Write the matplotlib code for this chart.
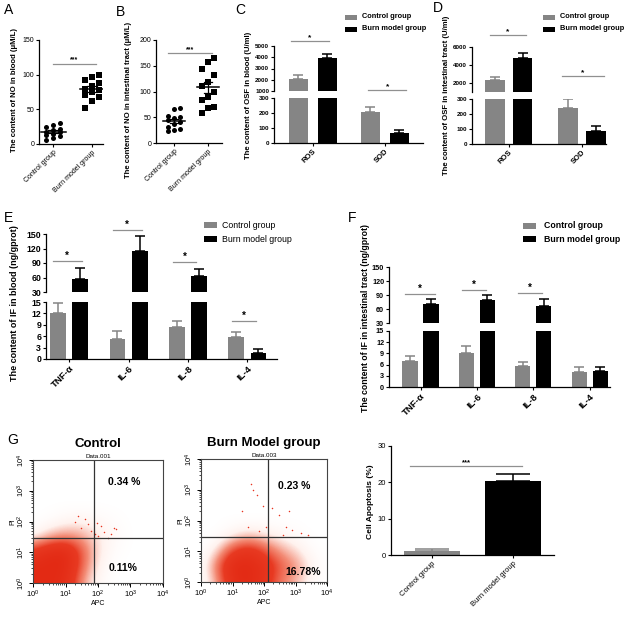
import matplotlib
matplotlib.use('Agg')
import matplotlib.pyplot as plt
import numpy as np
from matplotlib.patches import Rectangle
from matplotlib.colors import LinearSegmentedColormap

plt.rcParams['font.family'] = ['Liberation Sans', 'DejaVu Sans']
plt.rcParams['mathtext.fontset'] = 'custom'
plt.rcParams['mathtext.rm'] = 'Liberation Sans'
plt.rcParams['mathtext.it'] = 'Liberation Sans'

# ---- data ----
groups = ['Control group', 'Burn model group']

# A / B: NO content, individual animals
a_ctrl = [30, 28, 25, 22, 20, 18, 17, 15, 13, 11, 9, 6]
a_burn = [100, 97, 93, 88, 83, 80, 78, 75, 71, 68, 62, 52]
b_ctrl = [68, 66, 52, 50, 48, 44, 40, 36, 32, 27, 25, 24]
b_burn = [166, 157, 143, 132, 119, 110, 100, 90, 84, 70, 68, 59]

# C / D: oxygen free radicals
osf_cats = ['ROS', 'SOD']
c_ctrl = [2100, 207]
c_ctrl_err = [300, 33]
c_burn = [3900, 67]
c_burn_err = [400, 20]
d_ctrl = [2330, 238]
d_ctrl_err = [300, 60]
d_burn = [4740, 89]
d_burn_err = [630, 33]

# E / F: inflammatory factors
if_cats = ['TNF-α', 'IL-6', 'IL-8', 'IL-4']
e_ctrl = [12.1, 5.2, 8.3, 5.8]
e_ctrl_err = [2.7, 2.1, 1.8, 1.4]
e_burn = [57.6, 115.5, 63.8, 1.66]
e_burn_err = [22, 30, 14, 0.85]
f_ctrl = [7.0, 9.1, 5.6, 4.0]
f_ctrl_err = [1.2, 2.0, 1.2, 1.4]
f_burn = [71.4, 80, 65.7, 4.3]
f_burn_err = [10, 10.7, 15, 1.1]

# G: apoptosis
apop = [1.2, 20.5]
apop_err = [0.4, 1.8]

# flow cytometry: event density on a half-decade grid (rows = PI, cols = APC)
ctrl_density = [
    [1.0, 1.0, 0.9, 0.3, 0.05, 0, 0, 0, 0],
    [1.0, 1.0, 1.0, 0.45, 0.1, 0, 0, 0, 0],
    [0.7, 0.95, 1.0, 0.5, 0.15, 0.02, 0, 0, 0],
    [0.05, 0.25, 0.35, 0.3, 0.15, 0.05, 0, 0, 0],
    [0, 0.02, 0.08, 0.1, 0.06, 0.02, 0, 0, 0],
    [0, 0, 0, 0, 0, 0, 0, 0, 0],
    [0, 0, 0, 0, 0, 0, 0, 0, 0],
    [0, 0, 0, 0, 0, 0, 0, 0, 0],
    [0, 0, 0, 0, 0, 0, 0, 0, 0],
]
burn_density = [
    [0, 0.25, 0.85, 1.0, 0.75, 0.4, 0.25, 0.05, 0],
    [0, 0.4, 1.0, 1.0, 0.85, 0.5, 0.35, 0.1, 0],
    [0, 0.15, 0.6, 0.8, 0.55, 0.32, 0.18, 0.03, 0],
    [0, 0, 0.1, 0.2, 0.15, 0.08, 0.03, 0, 0],
    [0, 0, 0, 0, 0, 0, 0, 0, 0],
    [0, 0, 0, 0, 0, 0, 0, 0, 0],
    [0, 0, 0, 0, 0, 0, 0, 0, 0],
    [0, 0, 0, 0, 0, 0, 0, 0, 0],
    [0, 0, 0, 0, 0, 0, 0, 0, 0],
]
ctrl_sparse_apc = [30, 50, 80, 150, 250, 300, 20, 40, 100, 60, 200, 120, 25, 90, 350]
ctrl_sparse_pi = [60, 80, 40, 45, 40, 60, 100, 120, 35, 50, 30, 70, 150, 90, 55]
burn_sparse_apc = [40, 60, 20, 90, 180, 300, 500, 800, 1500, 2500, 400, 120, 30, 70, 600, 45]
burn_sparse_pi = [1500, 700, 200, 300, 250, 150, 60, 50, 40, 35, 35, 60, 60, 45, 200, 1000]
ctrl_gate = (75, 29)
burn_gate = (134, 29)
ctrl_pct = ['0.34 %', '0.11%']
burn_pct = ['0.23 %', '16.78%']

GRAY = '#858585'
W, H = 625, 620
fig = plt.figure(figsize=(W / 100, H / 100), dpi=100)


def add_ax(x0, y0, x1, y1):
    return fig.add_axes([x0 / W, 1 - y1 / H, (x1 - x0) / W, (y1 - y0) / H])


def style(ax, fs, weight='normal'):
    for s in ('top', 'right'):
        ax.spines[s].set_visible(False)
    for s in ('left', 'bottom'):
        ax.spines[s].set_linewidth(0.9)
    ax.tick_params(direction='out', length=2.5, width=0.8, labelsize=fs, pad=1)
    for t in ax.get_yticklabels() + ax.get_xticklabels():
        t.set_fontweight(weight)


def ylab(x, y, text, fs):
    fig.text(x / W, 1 - y / H, text, rotation=90, ha='center', va='center',
             fontsize=fs, fontweight='bold')


def letter(x, y, s):
    fig.text(x / W, 1 - y / H, s, fontsize=10, ha='left', va='center')


def sig(ax, x0, x1, y, stars, fs=6):
    ax.plot([x0, x1], [y, y], color='#909090', lw=0.9, clip_on=False)
    ax.text((x0 + x1) / 2, y, stars, ha='center', va='bottom', fontsize=fs,
            fontweight='bold', clip_on=False)


def legend_at(x, y, pw, ph, gap, dy, fs, weight):
    for k, (lab, col) in enumerate([('Control group', GRAY), ('Burn model group', 'k')]):
        yy = y + k * dy
        fig.add_artist(Rectangle((x / W, 1 - (yy + ph / 2) / H), pw / W, ph / H,
                                 transform=fig.transFigure, color=col, lw=0))
        fig.text((x + pw + gap) / W, 1 - yy / H, lab, fontsize=fs,
                 fontweight=weight, va='center', ha='left')


def dot_plot(ax, ctrl, burn, ylim, yticks, fs):
    for i, (vals, m) in enumerate([(ctrl, 'o'), (burn, 's')]):
        v = np.sort(np.asarray(vals, float))
        offs = ((np.arange(len(v)) % 3) - 1) * 0.17
        ax.scatter(i + offs, v, marker=m, s=13, c='k', linewidths=0, zorder=3)
        mean = v.mean()
        sem = v.std(ddof=1) / np.sqrt(len(v))
        ax.plot([i - 0.32, i + 0.32], [mean, mean], color='k', lw=1.1, zorder=4)
        ax.plot([i, i], [mean - sem, mean + sem], color='k', lw=0.9, zorder=4)
        for yy in (mean - sem, mean + sem):
            ax.plot([i - 0.12, i + 0.12], [yy, yy], color='k', lw=0.9, zorder=4)
    ax.set_ylim(ylim)
    ax.set_yticks(yticks)
    ax.set_xticks([0, 1])
    ax.set_xticklabels(groups, rotation=45, ha='right', rotation_mode='anchor')
    style(ax, fs)


def broken_bars(top_rect, bot_rect, top_lim, bot_lim, top_ticks, bot_ticks,
                cats, ctrl, ctrl_err, burn, burn_err, xlim, off, width, cap, fs, xfs):
    axt = add_ax(*top_rect)
    axb = add_ax(*bot_rect)
    x = np.arange(len(cats))
    n = len(cats)
    for ax in (axt, axb):
        ax.bar(x - off, ctrl, width, color=GRAY, lw=0)
        ax.bar(x + off, burn, width, color='k', lw=0)
        ax.errorbar(x - off, ctrl, yerr=[np.zeros(n), ctrl_err], fmt='none',
                    ecolor=GRAY, elinewidth=1.1, capsize=cap, capthick=1.1)
        ax.errorbar(x + off, burn, yerr=[np.zeros(n), burn_err], fmt='none',
                    ecolor='k', elinewidth=1.1, capsize=cap, capthick=1.1)
        ax.set_xlim(xlim)
    axt.set_ylim(top_lim)
    axt.set_yticks(top_ticks)
    axb.set_ylim(bot_lim)
    axb.set_yticks(bot_ticks)
    axt.set_xticks([])
    axb.set_xticks(x)
    axb.set_xticklabels(cats, rotation=45, ha='right', rotation_mode='anchor')
    style(axt, fs, 'bold')
    style(axb, fs, 'bold')
    axt.spines['bottom'].set_visible(False)
    for t in axb.get_xticklabels():
        t.set_fontsize(xfs)
    return axt, axb


# ---------- A ----------
axA = add_ax(39, 40, 103, 144)
axA.set_xlim(-0.36, 1.28)
dot_plot(axA, a_ctrl, a_burn, (0, 150), [0, 50, 100, 150], 5)
sig(axA, 0, 1.1, 116, '***', 5)
ylab(15, 90, 'The content of NO in blood (μM/L)', 5.6)
letter(4, 10, 'A')

# ---------- B ----------
axB = add_ax(156, 40, 222, 143)
axB.set_xlim(-0.53, 1.41)
dot_plot(axB, b_ctrl, b_burn, (0, 200), [0, 50, 100, 150, 200], 5)
sig(axB, -0.17, 1.12, 175, '***', 5)
ylab(128, 100, 'The content of NO in intestinal tract (μM/L)', 5.6)
letter(116, 12, 'B')

# ---------- C ----------
cT, cB = broken_bars((274, 46, 423, 91), (274, 98, 423, 143), (1000, 5000), (0, 300),
                     [1000, 2000, 3000, 4000, 5000], [0, 100, 200, 300],
                     osf_cats, c_ctrl, c_ctrl_err, c_burn, c_burn_err,
                     (-0.54, 1.53), 0.2, 0.27, 3.5, 4.5, 5.5)
sig(cT, -0.3, 0.22, 5450, '*', 6)
sig(cT, 0.77, 1.3, 1050, '*', 6)
ylab(248, 95, 'The content of OSF in blood (U/ml)', 5.6)
legend_at(345, 17, 12, 5, 5, 12, 5.3, 'bold')
letter(235, 10, 'C')

# ---------- D ----------
dT, dB = broken_bars((472, 47, 606, 92), (472, 99, 606, 144), (1000, 6000), (0, 300),
                     [2000, 4000, 6000], [0, 100, 200, 300],
                     osf_cats, d_ctrl, d_ctrl_err, d_burn, d_burn_err,
                     (-0.5, 1.33), 0.19, 0.27, 3.5, 4.5, 5.5)
sig(dT, -0.26, 0.24, 7300, '*', 6)
sig(dT, 0.73, 1.3, 2800, '*', 6)
ylab(447, 95, 'The content of OSF in intestinal tract (U/ml)', 5.6)
legend_at(543, 17, 12, 5, 5, 12, 5.3, 'bold')
letter(433, 8, 'D')

# ---------- E ----------
eT, eB = broken_bars((46, 234, 277, 292), (46, 302, 277, 359), (30, 150), (0, 15),
                     [30, 60, 90, 120, 150], [0, 3, 6, 9, 12, 15],
                     if_cats, e_ctrl, e_ctrl_err, e_burn, e_burn_err,
                     (-0.39, 3.5), 0.187, 0.265, 3.5, 6.3, 6.8)
sig(eT, -0.28, 0.21, 95, '*', 7)
sig(eT, 0.73, 1.22, 159, '*', 7)
sig(eT, 1.75, 2.13, 93, '*', 7)
sig(eB, 2.75, 3.15, 10, '*', 7)
ylab(15, 303, 'The content of IF in blood (ng/gprot)', 6.5)
legend_at(204, 225, 13, 6, 5, 14, 6.3, 'normal')
letter(4, 218, 'E')

# ---------- F ----------
fT, fB = broken_bars((389, 267, 610, 323), (389, 331, 610, 387), (30, 150), (0, 15),
                     [30, 60, 90, 120, 150], [0, 3, 6, 9, 12, 15],
                     if_cats, f_ctrl, f_ctrl_err, f_burn, f_burn_err,
                     (-0.56, 3.36), 0.186, 0.27, 3.5, 5.2, 6.8)
sig(fT, -0.28, 0.26, 92, '*', 7)
sig(fT, 0.73, 1.16, 100, '*', 7)
sig(fT, 1.73, 2.16, 95, '*', 7)
ylab(366, 318, 'The content of IF in intestinal tract (ng/gprot)', 6.3)
legend_at(523, 226, 13, 6, 8, 13, 6.3, 'bold')
letter(348, 218, 'F')

# ---------- G: flow cytometry ----------
cmap = LinearSegmentedColormap.from_list(
    'flow', [(0, 'white'), (0.12, '#fff2ee'), (0.35, '#f38a74'), (0.6, '#e83a22'), (1, '#e32a14')])
minor = [np.log10(m) + d for d in range(4) for m in range(2, 10)]


def flow(rect, density, sx, sy, gate, pct, title, tag, pct_pos):
    ax = add_ax(*rect)
    ax.imshow(np.asarray(density), origin='lower', extent=(-0.25, 4.25, -0.25, 4.25),
              cmap=cmap, vmin=0, vmax=1, interpolation='bicubic', aspect='auto')
    ax.scatter(np.log10(sx), np.log10(sy), s=1.2, c='#e8331f', linewidths=0)
    ax.axvline(np.log10(gate[0]), color='#333333', lw=0.9)
    ax.axhline(np.log10(gate[1]), color='#333333', lw=0.9)
    ax.set_xlim(0, 4)
    ax.set_ylim(0, 4)
    labs = [r'$10^{%d}$' % k for k in range(5)]
    ax.set_xticks(range(5))
    ax.set_xticklabels(labs)
    ax.set_yticks(range(5))
    ax.set_yticklabels(labs, rotation=90, va='center')
    ax.set_xticks(minor, minor=True)
    ax.set_yticks(minor, minor=True)
    ax.tick_params(which='major', direction='out', length=3, width=0.7, labelsize=5.5, pad=1)
    ax.tick_params(which='minor', direction='out', length=1.5, width=0.5)
    for s in ax.spines.values():
        s.set_linewidth(0.8)
        s.set_color('#444444')
    ax.set_xlabel('APC', fontsize=5, labelpad=0)
    ax.set_ylabel('PI', fontsize=5, labelpad=0)
    ax.text(0.5, 1.08, title, transform=ax.transAxes, ha='center', va='bottom',
            fontsize=9.5, fontweight='bold')
    ax.text(0.5, 1.005, tag, transform=ax.transAxes, ha='center', va='bottom', fontsize=4.5)
    for (px, py), s in zip(pct_pos, pct):
        ax.text(px, py, s, transform=ax.transAxes, ha='center', va='center',
                fontsize=7.5, fontweight='bold')
    return ax


flow((33, 460, 163, 583), ctrl_density, ctrl_sparse_apc, ctrl_sparse_pi, ctrl_gate,
     ctrl_pct, 'Control', 'Data.001', [(0.7, 0.82), (0.69, 0.12)])
flow((201, 459, 327, 582), burn_density, burn_sparse_apc, burn_sparse_pi, burn_gate,
     burn_pct, 'Burn Model group', 'Data.003', [(0.74, 0.78), (0.81, 0.08)])
letter(7, 440, 'G')

# ---------- G: apoptosis ----------
axG = add_ax(391, 446, 554, 555)
axG.bar([0, 1], apop, 0.69, color=[GRAY, 'k'], lw=0)
axG.errorbar([0], apop[:1], yerr=[[0], apop_err[:1]], fmt='none', ecolor=GRAY,
             elinewidth=1.1, capsize=12, capthick=1.1)
axG.errorbar([1], apop[1:], yerr=[[0], apop_err[1:]], fmt='none', ecolor='k',
             elinewidth=1.1, capsize=12, capthick=1.1)
axG.set_xlim(-0.506, 1.506)
axG.set_ylim(0, 30)
axG.set_yticks([0, 10, 20, 30])
axG.set_xticks([0, 1])
axG.set_xticklabels(groups, rotation=45, ha='right', rotation_mode='anchor')
style(axG, 5.5)
sig(axG, -0.27, 1.11, 24.5, '***', 5.5)
ylab(370, 502, 'Cell Apoptosis (%)', 6)

fig.savefig('out.png', dpi=100)
